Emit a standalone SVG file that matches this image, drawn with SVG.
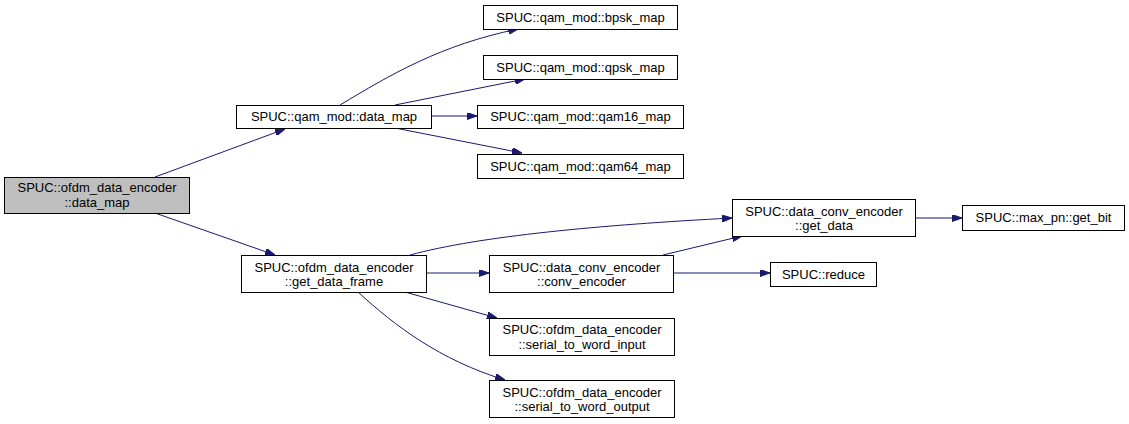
<svg xmlns="http://www.w3.org/2000/svg" width="1129" height="424" viewBox="0 0 1129 424">
<style>
.n rect{fill:#fff;stroke:#000;stroke-width:1}
.n.root rect{fill:#bfbfbf}
.n text{font-family:"Liberation Sans",Arial,sans-serif;font-size:13px;text-anchor:middle;fill:#000}
.e path{fill:none;stroke:#191970;stroke-width:1}
</style>
<defs>
<marker id="ah" viewBox="0 0 10 7" refX="10" refY="3.5" markerWidth="10" markerHeight="7" markerUnits="userSpaceOnUse" orient="auto">
<path d="M0,0 L10,3.5 L0,7 Z" fill="#191970" stroke="#191970"/>
</marker>
</defs>
<rect width="1129" height="424" fill="#fff"/>
<g id="edges" class="e">
<path d="M155,177 L285,129" marker-end="url(#ah)"/>
<path d="M155,213 L275,255" marker-end="url(#ah)"/>
<path d="M340,105 C390,75 440,45 518,29" marker-end="url(#ah)"/>
<path d="M395,105 L525,79" marker-end="url(#ah)"/>
<path d="M431,116 L477,116" marker-end="url(#ah)"/>
<path d="M395,128 L522,153" marker-end="url(#ah)"/>
<path d="M410,255 C480,236 600,225 732,218" marker-end="url(#ah)"/>
<path d="M426,273 L489,273" marker-end="url(#ah)"/>
<path d="M405,292 L497,318" marker-end="url(#ah)"/>
<path d="M358,292 C395,326 440,360 505,380" marker-end="url(#ah)"/>
<path d="M663,255 L742,236" marker-end="url(#ah)"/>
<path d="M673,273 L770,273" marker-end="url(#ah)"/>
<path d="M915,218 L962,218" marker-end="url(#ah)"/>
</g>
<g id="n1" class="n root"><rect x="4.5" y="177.5" width="185" height="36"/><text x="97" y="192">SPUC::ofdm_data_encoder</text><text x="97" y="207">::data_map</text></g>
<g id="n2" class="n"><rect x="236.5" y="105.5" width="195" height="23"/><text x="334" y="121">SPUC::qam_mod::data_map</text></g>
<g id="n3" class="n"><rect x="483.5" y="5.5" width="194" height="24"/><text x="580.5" y="22">SPUC::qam_mod::bpsk_map</text></g>
<g id="n4" class="n"><rect x="483.5" y="55.5" width="194" height="24"/><text x="580.5" y="72">SPUC::qam_mod::qpsk_map</text></g>
<g id="n5" class="n"><rect x="477.5" y="105.5" width="206" height="23"/><text x="580.5" y="121">SPUC::qam_mod::qam16_map</text></g>
<g id="n6" class="n"><rect x="477.5" y="154.5" width="206" height="24"/><text x="580.5" y="171">SPUC::qam_mod::qam64_map</text></g>
<g id="n7" class="n"><rect x="241.5" y="255.5" width="185" height="37"/><text x="334" y="272">SPUC::ofdm_data_encoder</text><text x="334" y="286">::get_data_frame</text></g>
<g id="n8" class="n"><rect x="489.5" y="255.5" width="184" height="37"/><text x="581.5" y="272">SPUC::data_conv_encoder</text><text x="581.5" y="286">::conv_encoder</text></g>
<g id="n9" class="n"><rect x="489.5" y="318.5" width="185" height="37"/><text x="582" y="334">SPUC::ofdm_data_encoder</text><text x="582" y="349">::serial_to_word_input</text></g>
<g id="n10" class="n"><rect x="489.5" y="380.5" width="185" height="37"/><text x="582" y="397">SPUC::ofdm_data_encoder</text><text x="582" y="411">::serial_to_word_output</text></g>
<g id="n11" class="n"><rect x="732.5" y="199.5" width="183" height="37"/><text x="824" y="216">SPUC::data_conv_encoder</text><text x="824" y="230">::get_data</text></g>
<g id="n12" class="n"><rect x="962.5" y="205.5" width="162" height="25"/><text x="1043.5" y="222">SPUC::max_pn::get_bit</text></g>
<g id="n13" class="n"><rect x="770.5" y="262.5" width="106" height="24"/><text x="823.5" y="279">SPUC::reduce</text></g>
</svg>
